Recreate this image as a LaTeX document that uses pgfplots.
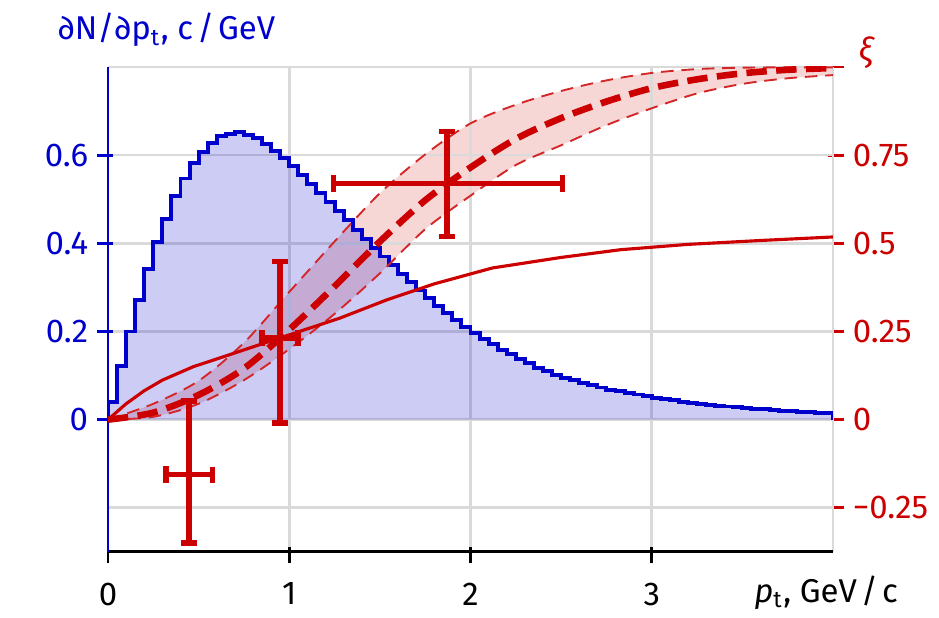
\documentclass[border=0pt]{standalone}
\usepackage{fontspec}
\setmainfont{Fira Sans}
\usepackage{pgfplots}
\pgfplotsset{compat=1.18}
\usepackage{pgfplotstable}
\usepgfplotslibrary{fillbetween}
\definecolor{myblue}{RGB}{0,0,205}
\definecolor{myred}{RGB}{204,0,0}
\definecolor{gridgray}{RGB}{218,218,218}

\pgfplotstableread{
x y
0.00 0
0.00 0.041
0.05 0.121
0.10 0.200
0.15 0.272
0.20 0.341
0.25 0.402
0.30 0.455
0.35 0.507
0.40 0.547
0.45 0.583
0.50 0.608
0.55 0.627
0.60 0.643
0.65 0.649
0.70 0.652
0.75 0.646
0.80 0.638
0.85 0.625
0.90 0.610
0.95 0.593
1.00 0.575
1.05 0.555
1.10 0.534
1.15 0.514
1.20 0.493
1.25 0.473
1.30 0.452
1.35 0.431
1.40 0.410
1.45 0.390
1.50 0.370
1.55 0.350
1.60 0.331
1.65 0.312
1.70 0.293
1.75 0.275
1.80 0.258
1.85 0.241
1.90 0.226
1.95 0.211
2.00 0.197
2.05 0.183
2.10 0.171
2.15 0.159
2.20 0.148
2.25 0.137
2.30 0.128
2.35 0.118
2.40 0.110
2.45 0.102
2.50 0.095
2.55 0.089
2.60 0.083
2.65 0.078
2.70 0.073
2.75 0.068
2.80 0.064
2.85 0.060
2.90 0.057
2.95 0.053
3.00 0.050
3.05 0.047
3.10 0.044
3.15 0.041
3.20 0.0385
3.25 0.0361
3.30 0.0339
3.35 0.0318
3.40 0.0298
3.45 0.0280
3.50 0.0262
3.55 0.0246
3.60 0.0231
3.65 0.0216
3.70 0.0203
3.75 0.0190
3.80 0.0179
3.85 0.0167
3.90 0.0157
3.95 0.0147
4.00 0.0147
4.00 0
}\hist

\pgfplotstableread{
x c up lo
0.00 0.000 0.000 0.000
0.25 0.020 0.045 0.008
0.50 0.070 0.110 0.045
0.75 0.145 0.218 0.112
1.00 0.255 0.362 0.200
1.25 0.378 0.505 0.300
1.50 0.505 0.642 0.415
1.75 0.622 0.752 0.540
2.00 0.715 0.840 0.635
2.25 0.796 0.893 0.722
2.50 0.855 0.932 0.778
2.75 0.902 0.962 0.835
3.00 0.940 0.983 0.883
3.25 0.965 0.994 0.925
3.50 0.982 0.998 0.952
3.75 0.992 0.999 0.968
4.00 0.997 0.999 0.977
}\band

\pgfplotstableread{
x y
0.00 0.000
0.10 0.045
0.20 0.082
0.30 0.112
0.47 0.150
0.67 0.184
0.95 0.232
1.28 0.288
1.54 0.340
1.80 0.385
2.12 0.430
2.50 0.460
2.83 0.482
3.20 0.497
3.60 0.508
4.00 0.518
}\solid

\pgfplotsset{base/.style={scale only axis, width=231pt, height=154.5pt, xmin=0, xmax=4}}

\begin{document}
\fontsize{10.5}{12.6}\selectfont
\begin{tikzpicture}
% grid
\begin{axis}[base, ymin=-0.3, ymax=0.8,
  xtick={0,1,2,3,4}, ytick={-0.2,0,0.2,0.4,0.6,0.8},
  xticklabels={}, yticklabels={},
  grid=major, major grid style={gridgray, line width=0.85pt},
  axis line style={draw=none}, major tick length=0pt]
\end{axis}
% left axis (histogram)
\begin{axis}[base, ymin=-0.3, ymax=0.8,
  axis x line*=bottom, axis y line*=left,
  x axis line style={black, line width=0.9pt},
  y axis line style={myblue, line width=0.9pt},
  xtick={0,1,2,3}, xticklabels={0,1,2,3},
  ytick={0,0.2,0.4,0.6}, yticklabels={0,0.2,0.4,0.6},
  tick align=center, major tick length=5.3pt,
  xtick style={black, line width=0.9pt, yshift=-1pt},
  ytick style={myblue, line width=0.9pt, xshift=-1pt},
  yticklabel style={text=myblue},
  xticklabel style={yshift=-3.5pt},
  xlabel={\textit{p}\textsubscript{t}, GeV\kern0.12em/\kern0.12em c},
  xlabel style={at={(axis description cs:1,0)}, anchor=base, xshift=-2.2pt, yshift=-16.2pt},
  ylabel={∂N/∂p\textsubscript{t}, c\kern0.12em/\kern0.12em GeV},
  ylabel style={at={(axis description cs:0,1)}, rotate=-90, anchor=base, xshift=18.7pt, yshift=8.6pt, text=myblue},
]
\addplot[const plot, draw=myblue, line width=1.25pt, fill=myblue, fill opacity=0.2] table {\hist};
\end{axis}
% right axis (xi)
\begin{axis}[base, ymin=-0.375, ymax=1,
  axis x line=none, axis y line*=right,
  y axis line style={myred, line width=0.9pt},
  ytick={-0.25,0,0.25,0.5,0.75,1}, yticklabels={−0.25,0,0.25,0.5,0.75,{}},
  tick align=center, major tick length=5.3pt,
  ytick style={myred, line width=0.9pt, xshift=1pt},
  yticklabel style={text=myred},
  ylabel={\textit{ξ}},
  ylabel style={at={(axis description cs:1,1)}, rotate=-90, anchor=center, xshift=10.8pt, yshift=4.6pt, text=myred},
]
\addplot[name path=up, smooth, myred!85, line width=0.6pt, dash pattern=on 4pt off 2.5pt] table[x=x, y=up] {\band};
\addplot[name path=lo, smooth, myred!85, line width=0.6pt, dash pattern=on 4pt off 2.5pt] table[x=x, y=lo] {\band};
\addplot[myred, fill opacity=0.16, draw=none] fill between[of=up and lo];
\addplot[smooth, myred, line width=2.1pt, dash pattern=on 6.5pt off 3pt] table[x=x, y=c] {\band};
\addplot[myred, line width=1pt] table {\solid};
\addplot[myred, only marks, mark=*, mark size=0.7pt,
  error bars/.cd, x dir=both, y dir=both, x explicit, y explicit,
  error bar style={line width=1.8pt, myred},
  error mark options={rotate=90, mark size=2.6pt, line width=1.8pt, myred}]
  coordinates {
  (0.447,-0.156) += (0.129,0.208) -= (0.128,0.193)
  (0.950,0.232) += (0.100,0.216) -= (0.100,0.241)
  (1.871,0.670) += (0.636,0.147) -= (0.626,0.151)
  };
\end{axis}
\pgfresetboundingbox
\path (-34.41pt,-21.03pt) rectangle (264.78pt,175.85pt);
\end{tikzpicture}
\end{document}
